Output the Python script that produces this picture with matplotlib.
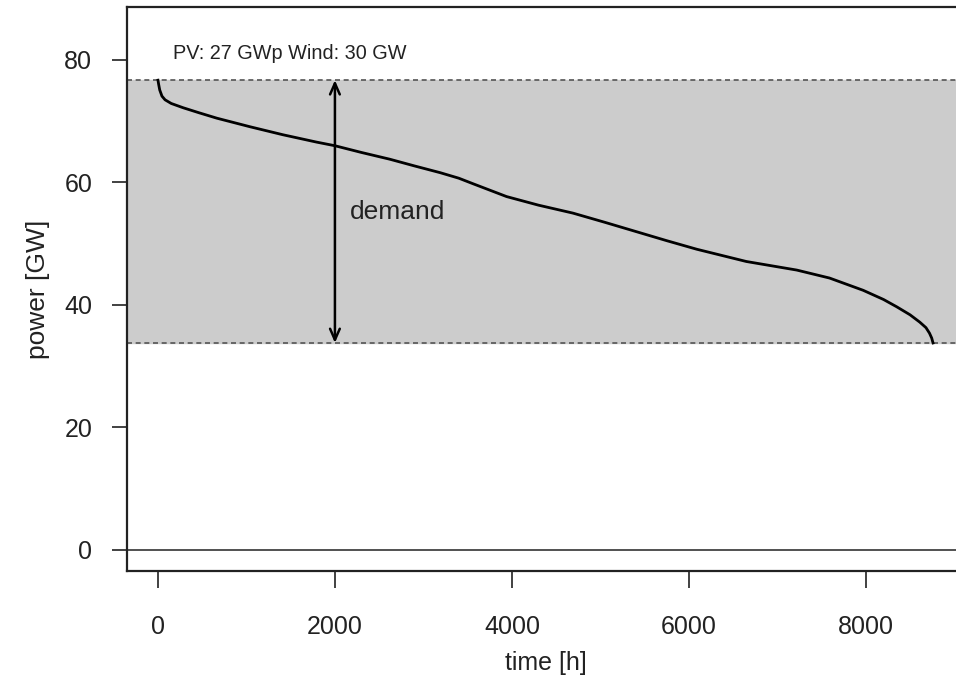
import matplotlib
matplotlib.use("Agg")
import matplotlib.pyplot as plt
import numpy as np

# ------------------ Datos ------------------
# curva de duración de la demanda
horas = [0, 8, 20, 45, 80, 150, 285, 460, 665, 1040, 1410, 1790, 2000, 2300,
         2620, 2900, 3190, 3400, 3560, 3940, 4300, 4690, 5050, 5400, 5750, 6090,
         6650, 7220, 7590, 7970, 8200, 8350, 8500, 8610, 8680, 8720, 8745, 8760]
demanda = [76.7, 76.0, 75.1, 74.1, 73.5, 72.9, 72.2, 71.4, 70.5, 69.1, 67.8,
           66.6, 66.0, 64.9, 63.8, 62.7, 61.6, 60.7, 59.8, 57.7, 56.3, 55.0,
           53.5, 52.0, 50.5, 49.1, 47.1, 45.7, 44.4, 42.4, 40.9, 39.7, 38.4,
           37.2, 36.3, 35.4, 34.6, 33.8]
x_ticks = [0, 2000, 4000, 6000, 8000]
y_ticks = [0, 20, 40, 60, 80]
titulo = "PV: 27 GWp Wind: 30 GW"

dem_max = max(demanda)
dem_min = min(demanda)
x_flecha = 2000

# ------------------ Figura ------------------
plt.rcParams["font.family"] = ["Liberation Sans", "DejaVu Sans"]
fig = plt.figure(figsize=(9.56, 6.94), dpi=100)
# el eje derecho queda fuera de la imagen (recorte del original)
ax = fig.add_axes([127 / 956, 1 - 571 / 694, (964 - 127) / 956, (571 - 7) / 694])

ax.set_xlim(-350, 9110)
ax.set_ylim(-3.43, 88.65)

# banda de demanda
ax.axhspan(dem_min, dem_max, color="#cccccc", zorder=0)
ax.axhline(dem_max, color="#555555", lw=1.2, ls=(0, (3, 2.2)), zorder=1)
ax.axhline(dem_min, color="#555555", lw=1.2, ls=(0, (3, 2.2)), zorder=1)
ax.axhline(0, color="#333333", lw=1.2, zorder=1)

ax.plot(horas, demanda, color="black", lw=2.0, zorder=3, solid_joinstyle="round")

ax.annotate("", xy=(x_flecha, dem_max), xytext=(x_flecha, dem_min),
            arrowprops=dict(arrowstyle="<->,head_length=0.8,head_width=0.35",
                            color="black", lw=1.8, shrinkA=0, shrinkB=0),
            zorder=4)
ax.text(x_flecha + 170, 55.2, "demand", fontsize=19, va="center", ha="left",
        color="#222222")
ax.text(170, 81.1, titulo, fontsize=14.3, va="center", ha="left", color="#222222")

ax.set_xticks(x_ticks)
ax.set_yticks(y_ticks)
ax.tick_params(axis="x", length=12, width=1.3, pad=20, labelsize=18,
               color="#333333", labelcolor="#222222")
ax.tick_params(axis="y", length=11, width=1.3, pad=14, labelsize=18,
               color="#333333", labelcolor="#222222")
for s in ax.spines.values():
    s.set_linewidth(1.6)
    s.set_color("#222222")

ax.set_xlabel("time [h]", fontsize=18, labelpad=8, color="#222222")
ax.set_ylabel("power [GW]", fontsize=19, labelpad=10, color="#222222")

fig.savefig("out.png", dpi=100)
